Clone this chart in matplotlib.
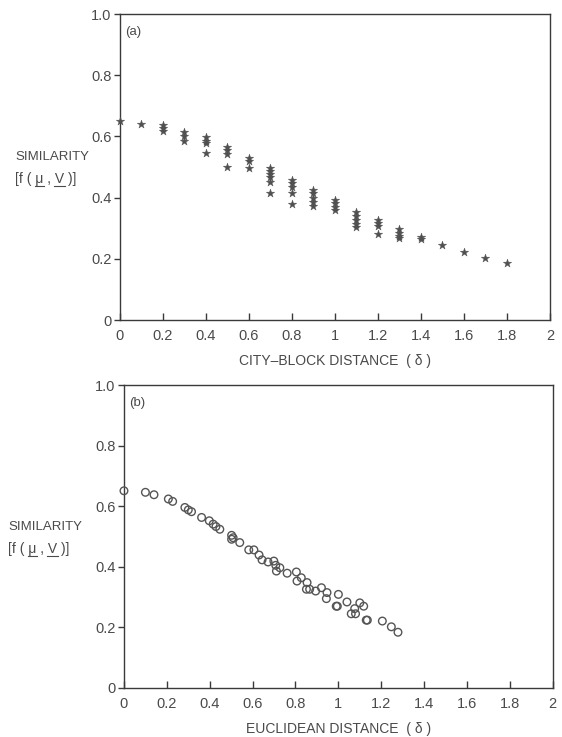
import numpy as np
import matplotlib
matplotlib.use("Agg")
import matplotlib.pyplot as plt
from matplotlib.lines import Line2D
from matplotlib.transforms import IdentityTransform

plt.rcParams['font.family'] = ['Liberation Sans', 'DejaVu Sans']

# (a) city-block distance vs similarity (stars)
city_x = [0.0, 0.1,
          0.2, 0.2, 0.2,
          0.3, 0.3, 0.3,
          0.4, 0.4, 0.4, 0.4,
          0.5, 0.5, 0.5, 0.5,
          0.6, 0.6, 0.6,
          0.7, 0.7, 0.7, 0.7, 0.7, 0.7,
          0.8, 0.8, 0.8, 0.8, 0.8,
          0.9, 0.9, 0.9, 0.9, 0.9,
          1.0, 1.0, 1.0, 1.0,
          1.1, 1.1, 1.1, 1.1, 1.1,
          1.2, 1.2, 1.2, 1.2,
          1.3, 1.3, 1.3, 1.3,
          1.4, 1.4, 1.5, 1.6, 1.7, 1.8]
city_y = [0.65, 0.64,
          0.637, 0.628, 0.619,
          0.615, 0.600, 0.586,
          0.597, 0.586, 0.577, 0.545,
          0.566, 0.556, 0.542, 0.500,
          0.530, 0.520, 0.496,
          0.498, 0.488, 0.477, 0.466, 0.452, 0.416,
          0.457, 0.447, 0.434, 0.414, 0.379,
          0.425, 0.414, 0.400, 0.387, 0.373,
          0.392, 0.381, 0.370, 0.360,
          0.353, 0.340, 0.327, 0.314, 0.303,
          0.327, 0.316, 0.307, 0.280,
          0.296, 0.285, 0.275, 0.267,
          0.272, 0.264, 0.245, 0.223, 0.204, 0.185]

# (b) euclidean distance vs similarity (open circles)
eucl_x = [0.0, 0.10, 0.14, 0.207, 0.227, 0.284, 0.30, 0.315, 0.362, 0.398,
          0.416, 0.429, 0.447, 0.502, 0.509, 0.502, 0.54, 0.582, 0.606, 0.63,
          0.644, 0.672, 0.699, 0.708, 0.711, 0.727, 0.761, 0.804, 0.807, 0.827,
          0.854, 0.851, 0.866, 0.894, 0.921, 0.947, 0.944, 1.0, 0.99, 0.995,
          1.04, 1.06, 1.08, 1.076, 1.10, 1.118, 1.13, 1.135, 1.205, 1.247, 1.278]
eucl_y = [0.651, 0.646, 0.638, 0.624, 0.616, 0.596, 0.588, 0.582, 0.563, 0.552,
          0.541, 0.533, 0.524, 0.504, 0.496, 0.491, 0.480, 0.456, 0.456, 0.439,
          0.423, 0.416, 0.419, 0.405, 0.386, 0.397, 0.379, 0.383, 0.353, 0.364,
          0.348, 0.326, 0.326, 0.320, 0.331, 0.315, 0.295, 0.309, 0.270, 0.270,
          0.284, 0.245, 0.245, 0.262, 0.281, 0.270, 0.224, 0.224, 0.221, 0.202, 0.184]

xticks = [0, 0.2, 0.4, 0.6, 0.8, 1, 1.2, 1.4, 1.6, 1.8, 2]
xtick_labels = ['0', '0.2', '0.4', '0.6', '0.8', '1', '1.2', '1.4', '1.6', '1.8', '2']
yticks = [0, 0.2, 0.4, 0.6, 0.8, 1.0]
ytick_labels = ['0', '0.2', '0.4', '0.6', '0.8', '1.0']

text_col = '#4a4a4a'
line_col = '#3a3a3a'

W, H = 562, 737
fig = plt.figure(figsize=(W / 100, H / 100), dpi=100)
ax_a = fig.add_axes([0.2135, 0.5658, 0.765, 0.4152])
ax_b = fig.add_axes([0.2206, 0.0665, 0.763, 0.411])

for ax, lab, xl in [(ax_a, '(a)', 'CITY\u2013BLOCK DISTANCE  ( \u03b4 )'),
                    (ax_b, '(b)', 'EUCLIDEAN DISTANCE  ( \u03b4 )')]:
    ax.set_xlim(0, 2)
    ax.set_ylim(0, 1.0)
    ax.set_xticks(xticks)
    ax.set_xticklabels(xtick_labels)
    ax.set_yticks(yticks)
    ax.set_yticklabels(ytick_labels)
    ax.tick_params(axis='x', direction='in', length=5, width=1, colors=line_col,
                   labelcolor=text_col, labelsize=10.5, pad=6.5)
    ax.tick_params(axis='y', direction='out', length=4, width=1, colors=line_col,
                   labelcolor=text_col, labelsize=10.5, pad=2)
    for s in ax.spines.values():
        s.set_color(line_col)
        s.set_linewidth(1.0)
    ax.text(0.012, 0.96, lab, transform=ax.transAxes, ha='left', va='top',
            fontsize=9.5, color=text_col)
    ax.set_xlabel(xl, fontsize=10, color=text_col, labelpad=8)

ax_a.scatter(city_x, city_y, marker='*', s=40, color='#505050', linewidths=0.3,
             clip_on=False, zorder=3)
ax_b.scatter(eucl_x, eucl_y, marker='o', s=30, facecolors='none',
             edgecolors='#555555', linewidths=1.0, clip_on=False, zorder=3)

# y labels, drawn horizontally at the left, with underlined mu and V
ylabel_spots = [(15, 160, 183), (8, 530, 553)]   # x, baseline1, baseline2 (px from top)
lab_texts = []
for x_px, b1, b2 in ylabel_spots:
    fig.text(x_px / W, 1 - b1 / H, 'SIMILARITY', ha='left', va='baseline',
             fontsize=9.5, color=text_col)
    t = fig.text(x_px / W, 1 - b2 / H, '[f ( \u03bc , V )]', ha='left', va='baseline',
                 fontsize=10, color=text_col)
    lab_texts.append((t, x_px, b2))

fig.canvas.draw()
r = fig.canvas.get_renderer()
for t, x_px, b2 in lab_texts:
    prop = t.get_fontproperties()
    def wid(s):
        return r.get_text_width_height_descent(s, prop, ismath=False)[0]
    y = H - b2 - 2.5
    for pre, seg in [('[f ( ', '\u03bc'), ('[f ( \u03bc , ', 'V')]:
        x0 = x_px + wid(pre) - 0.5
        x1 = x_px + wid(pre + seg) + 0.5
        fig.add_artist(Line2D([x0, x1], [y, y], transform=IdentityTransform(),
                              color=text_col, linewidth=0.8))

fig.savefig('out.png', dpi=100)
